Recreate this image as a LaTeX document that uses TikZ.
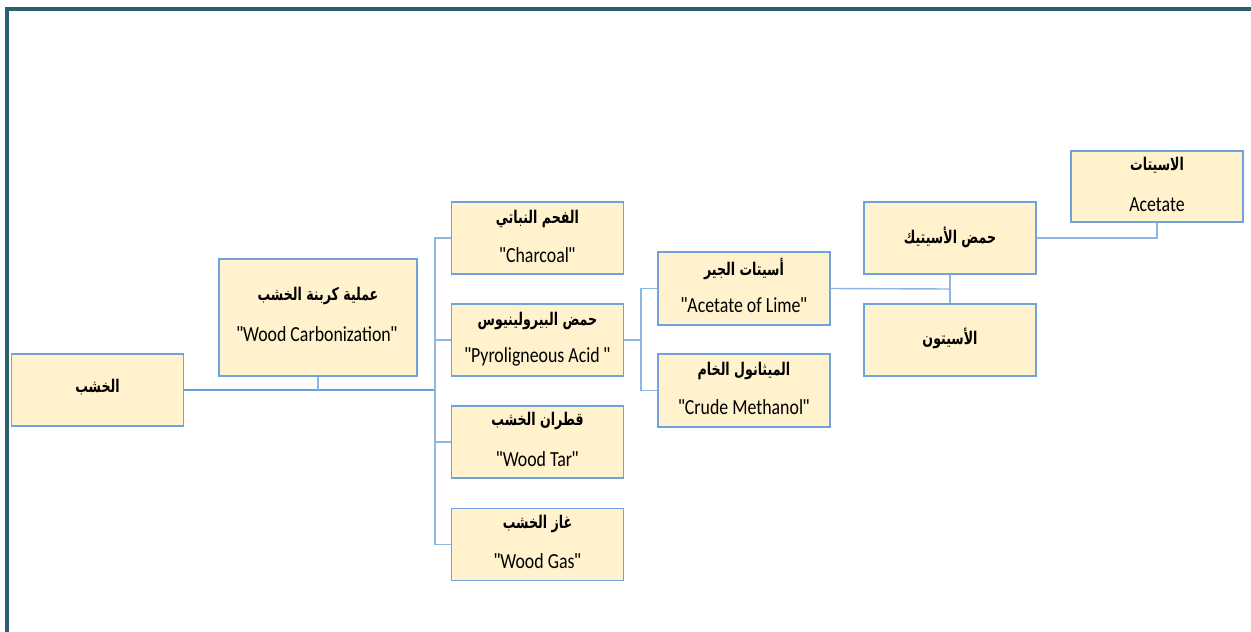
\documentclass[tikz,border=0pt]{standalone}
\usepackage{fontspec}
\setmainfont[FakeStretch=0.83]{Carlito}
\newfontfamily\arabicfont[Script=Arabic,FakeStretch=0.72]{DejaVu Sans}
\newfontfamily\quotefont[FakeStretch=0.83]{Liberation Sans}
\TeXXeTstate=1
\usetikzlibrary{calc}
\definecolor{boxfill}{HTML}{FFF2CC}
\definecolor{boxline}{HTML}{6FA3DC}
\definecolor{linkline}{HTML}{8DB6E2}
\definecolor{mainline}{HTML}{6A9ED6}
\definecolor{frameline}{HTML}{2B5F6C}
\newcommand{\ar}[1]{{\arabicfont\bfseries\beginR #1\endR}}
\newcommand{\qt}{{\quotefont\char34}}
\tikzset{
  item/.style={draw=boxline, fill=boxfill, line width=1.3pt, inner sep=0pt,
    minimum width=172pt, minimum height=72pt},
  entxt/.style={font=\fontsize{21.5}{21.5}\selectfont, inner sep=0pt, text=black},
  artxt/.style={font=\fontsize{17.5}{17.5}\selectfont, inner sep=0pt, text=black},
  link/.style={draw=linkline, line width=1.4pt},
  trunk/.style={draw=mainline, line width=2.4pt},
}
\begin{document}
\begin{tikzpicture}[x=1pt, y=-1pt]
\useasboundingbox (0,0) rectangle (1251,632);
\fill[white] (0,0) rectangle (1251,632);
% outer frame (top and left edges)
\draw[frameline, line width=4pt] (6.5,632) -- (6.5,8.5) -- (1251,8.5);

% boxes
\node[item] (wood) at (97.5,390) {};
\node[item, minimum width=198pt, minimum height=117pt] (carb) at (318,317.5) {};
\node[item] (char) at (537.5,238) {};
\node[item] (pyro) at (537.5,340) {};
\node[item] (tar)  at (537.5,442) {};
\node[item] (gas)  at (537.5,544.5) {};
\node[item, minimum height=73pt] (lime) at (744,288.5) {};
\node[item, minimum height=73pt] (meth) at (744,390.5) {};
\node[item] (acetic)  at (950,238) {};
\node[item] (acetone) at (950,340) {};
\node[item, minimum height=71pt] (acetate) at (1157,186.5) {};

% labels
\node[artxt] at ($(wood.center)+(0,-3)$) {\ar{الخشب}};
\node[artxt] at ($(carb.center)+(0,-22)$) {\ar{عملية كربنة الخشب}};
\node[entxt] at ($(carb.center)+(-1,17)$) {\qt Wood Carbonization\qt};
\node[artxt] at ($(char.center)+(0,-19)$) {\ar{الفحم النباتي}};
\node[entxt] at ($(char.center)+(0,17)$) {\qt Charcoal\qt};
\node[artxt] at ($(pyro.center)+(0,-19)$) {\ar{حمض البيرولينيوس}};
\node[entxt] at ($(pyro.center)+(0,17)$) {\qt Pyroligneous Acid \qt};
\node[artxt] at ($(tar.center)+(0,-21)$) {\ar{قطران الخشب}};
\node[entxt] at ($(tar.center)+(0,17)$) {\qt Wood Tar\qt};
\node[artxt] at ($(gas.center)+(0,-21)$) {\ar{غاز الخشب}};
\node[entxt] at ($(gas.center)+(0,17)$) {\qt Wood Gas\qt};
\node[artxt] at ($(lime.center)+(0,-20)$) {\ar{أسيتات الجير}};
\node[entxt] at ($(lime.center)+(0,17)$) {\qt Acetate of Lime\qt};
\node[artxt] at ($(meth.center)+(0,-20)$) {\ar{الميثانول الخام}};
\node[entxt] at ($(meth.center)+(0,17)$) {\qt Crude Methanol\qt};
\node[artxt] at ($(acetic.center)+(0,-1)$) {\ar{حمض الأسيتيك}};
\node[artxt] at ($(acetone.center)+(0,-2)$) {\ar{الأسيتون}};
\node[artxt] at ($(acetate.center)+(0,-21)$) {\ar{الاسيتات}};
\node[entxt] at ($(acetate.center)+(0,18)$) {Acetate};

% connectors
\coordinate (bus) at (435,390);
\coordinate (split) at (641,340);
\coordinate (join) at (950,289);
\draw[trunk] (wood.east) -- (bus);
\draw[link] (carb.south) -- (carb.south |- bus);
\draw[link] (char.west) -| (bus) |- (gas.west);
\draw[link] (pyro.west) -- (pyro.west -| bus);
\draw[link] (tar.west) -- (tar.west -| bus);
\draw[link] (pyro.east) -- (split);
\draw[link] (lime.west) -| (split) |- (meth.west);
\draw[link] (lime.east) -- (join);
\draw[link] (acetic.south) -- (acetone.north);
\draw[link] (acetic.east) -| (acetate.south);
\end{tikzpicture}
\end{document}
